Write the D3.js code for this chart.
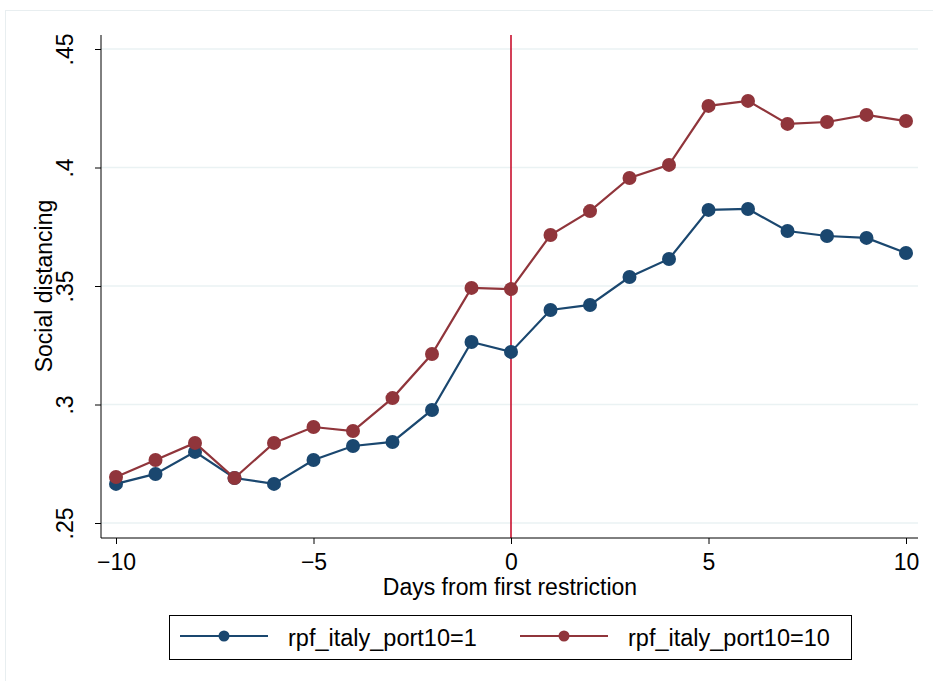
<!DOCTYPE html>
<html><head><meta charset="utf-8">
<script src="https://cdn.jsdelivr.net/npm/d3@7"></script>
<style>body{margin:0;background:#fff}svg{display:block;font-family:"Liberation Sans",Arial,sans-serif}</style>
</head><body><svg id="c" width="933" height="681"></svg>
<script>
const days = [-10,-9,-8,-7,-6,-5,-4,-3,-2,-1,0,1,2,3,4,5,6,7,8,9,10];
const port1 = [0.2665,0.2707,0.2800,0.2690,0.2665,0.2766,0.2825,0.2842,0.2977,0.3264,0.3222,0.3399,0.3420,0.3538,0.3614,0.3821,0.3825,0.3732,0.3711,0.3703,0.3639];
const port10 = [0.2694,0.2766,0.2838,0.2690,0.2838,0.2905,0.2888,0.3027,0.3213,0.3492,0.3487,0.3715,0.3816,0.3956,0.4011,0.4260,0.4281,0.4184,0.4192,0.4222,0.4196];
const xTicks = [-10,-5,0,5,10];
const yTicks = [0.25,0.3,0.35,0.4,0.45];
const yTickLabels = [".25",".3",".35",".4",".45"];
const seriesNames = ["rpf_italy_port10=1","rpf_italy_port10=10"];
const colors = ["#1a476f","#90353b"];

const svg = d3.select("#c");
svg.append("rect").attr("x",5.5).attr("y",10.5).attr("width",940).attr("height",680).attr("fill","#fff").attr("stroke","#e8eef0");

const x = d3.scaleLinear().domain([-10,10]).range([116,906]);
const y = d3.scaleLinear().domain([0.25,0.45]).range([523,49]);
const L=101, R=918, T=35, B=538;
const FS = 23;

svg.append("g").selectAll("line").data(yTicks).join("line")
  .attr("x1",L).attr("x2",R).attr("y1",d=>y(d)).attr("y2",d=>y(d))
  .attr("stroke","#eaf2f3").attr("stroke-width",1.5);

svg.append("line").attr("x1",x(0)).attr("x2",x(0)).attr("y1",T).attr("y2",B)
  .attr("stroke","#c8102e").attr("stroke-width",1.6);

const yAxis = d3.axisLeft(y).tickValues(yTicks).tickSize(6).tickFormat((d,i)=>yTickLabels[i]);
const gy = svg.append("g").attr("transform",`translate(${L},0)`).call(yAxis);
gy.attr("font-family",null).attr("font-size",null);
gy.select(".domain").attr("d",`M0,${T}V${B}`).attr("stroke","#000");
gy.selectAll(".tick line").attr("stroke","#000");
gy.selectAll(".tick text").attr("font-size",FS).attr("fill","#000")
  .attr("transform","rotate(-90)").attr("x",0).attr("y",-28).attr("dy","0")
  .attr("text-anchor","middle");

const xAxis = d3.axisBottom(x).tickValues(xTicks).tickSize(6).tickFormat(d=>d<0?"\u2212"+Math.abs(d):String(d));
const gx = svg.append("g").attr("transform",`translate(0,${B})`).call(xAxis);
gx.attr("font-family",null).attr("font-size",null);
gx.select(".domain").attr("d",`M${L},0H${R}`).attr("stroke","#000");
gx.selectAll(".tick line").attr("stroke","#000");
gx.selectAll(".tick text").attr("font-size",FS).attr("fill","#000").attr("y",32).attr("dy","0");

svg.append("text").attr("x",510).attr("y",595).attr("text-anchor","middle").attr("font-size",FS).text("Days from first restriction");
svg.append("text").attr("transform","translate(52,286) rotate(-90)").attr("text-anchor","middle").attr("font-size",FS).text("Social distancing");

const series = [port1, port10];
const line = d3.line().x((d,i)=>x(days[i])).y(d=>y(d));
series.forEach((s,k)=>{
  svg.append("path").datum(s).attr("d",line).attr("fill","none").attr("stroke",colors[k]).attr("stroke-width",2.2);
  svg.append("g").selectAll("circle").data(s).join("circle")
    .attr("cx",(d,i)=>x(days[i])).attr("cy",d=>y(d)).attr("r",7).attr("fill",colors[k]);
});

const lg = svg.append("g");
lg.append("rect").attr("x",169.5).attr("y",615.5).attr("width",682).attr("height",44).attr("fill","#fff").attr("stroke","#000");
const lx = [180, 520];
seriesNames.forEach((n,k)=>{
  lg.append("line").attr("x1",lx[k]).attr("x2",lx[k]+88).attr("y1",636).attr("y2",636).attr("stroke",colors[k]).attr("stroke-width",2.2);
  lg.append("circle").attr("cx",lx[k]+44).attr("cy",636).attr("r",5.5).attr("fill",colors[k]);
  lg.append("text").attr("x",lx[k]+108).attr("y",646).attr("font-size",FS+0.5).text(n);
});
</script></body></html>
